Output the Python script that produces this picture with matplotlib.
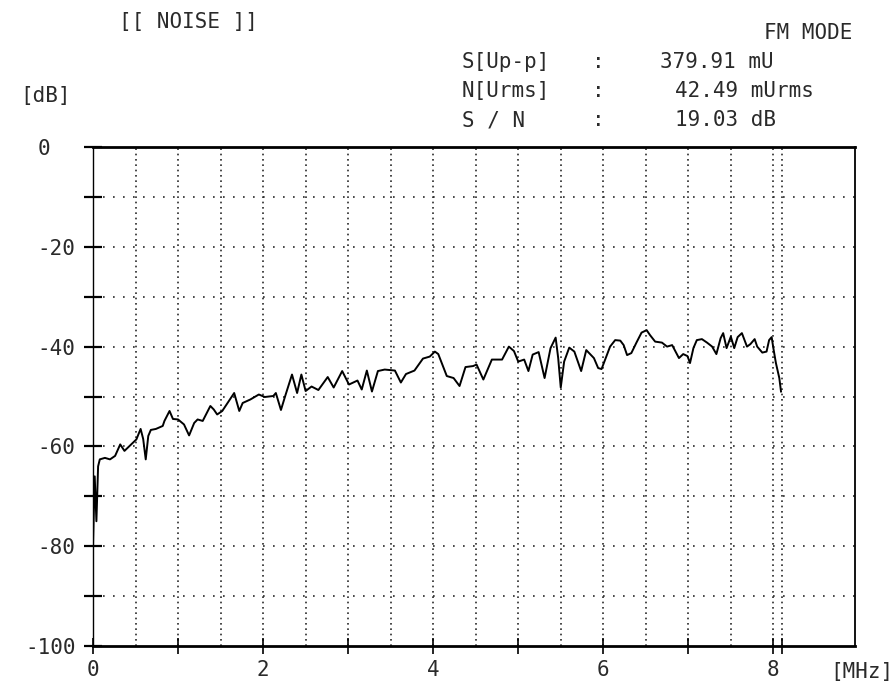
import numpy as np
import matplotlib
matplotlib.use('Agg')
from matplotlib import pyplot as plt

# noise spectrum
freq_mhz = [0.00, 0.02, 0.04, 0.06, 0.08, 0.14, 0.20, 0.26, 0.32, 0.37, 0.45, 0.51,
            0.56, 0.59, 0.62, 0.65, 0.68, 0.74, 0.82, 0.84, 0.90, 0.94, 1.00, 1.07,
            1.13, 1.19, 1.23, 1.29, 1.38, 1.42, 1.46, 1.52, 1.62, 1.66, 1.72, 1.76,
            1.85, 1.95, 2.02, 2.12, 2.15, 2.21, 2.26, 2.34, 2.40, 2.45, 2.50, 2.57,
            2.65, 2.76, 2.83, 2.93, 3.01, 3.11, 3.16, 3.22, 3.28, 3.35, 3.43, 3.55,
            3.62, 3.68, 3.78, 3.88, 3.96, 4.02, 4.06, 4.16, 4.24, 4.31, 4.38, 4.47,
            4.51, 4.59, 4.69, 4.81, 4.89, 4.95, 5.00, 5.07, 5.12, 5.17, 5.24, 5.31,
            5.38, 5.44, 5.47, 5.50, 5.54, 5.60, 5.66, 5.74, 5.80, 5.89, 5.94, 5.98,
            6.02, 6.08, 6.14, 6.20, 6.24, 6.28, 6.33, 6.39, 6.45, 6.51, 6.55, 6.61,
            6.69, 6.75, 6.81, 6.89, 6.94, 6.99, 7.02, 7.06, 7.10, 7.16, 7.22, 7.28,
            7.33, 7.38, 7.41, 7.45, 7.50, 7.54, 7.58, 7.63, 7.69, 7.73, 7.78, 7.81,
            7.87, 7.92, 7.95, 7.98, 8.00, 8.03, 8.07, 8.09]
level_db = [-80.0, -66.0, -75.0, -64.0, -62.6, -62.3, -62.6, -61.9, -59.6, -60.9, -59.6, -58.6,
            -56.5, -58.5, -62.6, -57.9, -56.7, -56.5, -55.9, -54.9, -52.9, -54.5, -54.6, -55.6,
            -57.8, -55.3, -54.6, -54.9, -51.9, -52.6, -53.6, -52.9, -50.3, -49.3, -52.9, -51.3,
            -50.6, -49.6, -50.1, -49.9, -49.3, -52.7, -49.9, -45.6, -49.3, -45.6, -48.9, -48.0,
            -48.7, -46.1, -48.2, -44.9, -47.6, -46.8, -48.6, -44.8, -49.0, -44.9, -44.6, -44.8,
            -47.2, -45.5, -44.8, -42.4, -42.0, -41.0, -41.5, -45.9, -46.3, -47.9, -44.1, -43.9,
            -43.6, -46.6, -42.6, -42.6, -40.0, -40.9, -43.0, -42.6, -44.9, -41.6, -41.1, -46.3,
            -40.3, -38.2, -42.3, -48.2, -43.0, -40.2, -41.0, -44.9, -40.7, -42.3, -44.3, -44.5,
            -42.7, -40.0, -38.7, -38.8, -39.7, -41.7, -41.3, -39.2, -37.2, -36.7, -37.7, -39.0,
            -39.2, -40.0, -39.7, -42.3, -41.5, -41.9, -43.3, -40.3, -38.7, -38.5, -39.2, -40.0,
            -41.5, -38.3, -37.3, -40.3, -38.0, -40.3, -38.1, -37.3, -40.0, -39.5, -38.5, -40.0,
            -41.2, -41.0, -38.7, -38.1, -40.3, -43.3, -46.3, -49.0]

y_ticks = list(range(-100, 1, 10))
y_tick_labels = ['-100', '', '-80', '', '-60', '', '-40', '', '-20', '', '0  ']
x_ticks = [0, 1, 2, 3, 4, 5, 6, 7, 8, 8.1]
x_tick_labels = ['0', '', '2', '', '4', '', '6', '', '8', '']
marker_mhz = 8.1

title_left = '[[ NOISE ]]'
title_right = 'FM MODE'
readout_names = ['S[Up-p]', 'N[Urms]', 'S / N']
readout_values = ['379.91 mU', '42.49 mUrms', '19.03 dB']

INK = '#2a2a2a'
FONT = 'DejaVu Sans Mono'
W, H = 895, 685

plt.rcParams['font.family'] = FONT
fig = plt.figure(figsize=(W / 100, H / 100), dpi=100)
ax = fig.add_axes([93 / W, 1 - 646 / H, (855 - 93) / W, (646 - 147) / H])
ax.set_xlim(0, 8.96)
ax.set_ylim(-100, 0)

# dotted plotter grid
for gx in list(np.arange(0.5, 8.01, 0.5)) + [marker_mhz]:
    ax.axvline(gx, color=INK, lw=1.2, linestyle=(0, (1, 2.2)), zorder=1)
for gy in range(-90, 0, 10):
    ax.axhline(gy, color=INK, lw=1.2, linestyle=(0, (1, 5)), zorder=1)

ax.plot(freq_mhz, level_db, color='black', lw=1.4, zorder=3)

ax.spines['left'].set_linewidth(1.0)
ax.spines['top'].set_linewidth(2.0)
ax.spines['bottom'].set_linewidth(2.0)
ax.spines['right'].set_linewidth(1.3)

ax.set_yticks(y_ticks)
ax.set_yticklabels(y_tick_labels)
ax.set_xticks(x_ticks)
ax.set_xticklabels(x_tick_labels)
ax.tick_params(axis='y', direction='inout', length=13, width=1.6, pad=6,
               labelsize=15, labelcolor=INK)
ax.tick_params(axis='x', direction='inout', length=12, width=1.2, pad=4,
               labelsize=15, labelcolor=INK)

txt = dict(fontsize=15, color=INK, va='center')
fig.text(188 / W, 1 - 22 / H, title_left, ha='center', **txt)
fig.text(852 / W, 1 - 33 / H, title_right, ha='right', **txt)
fig.text(46 / W, 1 - 96 / H, '[dB]', ha='center', **txt)
fig.text(893 / W, 1 - 672 / H, '[MHz]', ha='right', **txt)
value_left = [660, 675, 675]
for i, (name, value) in enumerate(zip(readout_names, readout_values)):
    ypos = 1 - (62 + 29 * i) / H
    fig.text(462 / W, ypos, name, ha='left', **txt)
    fig.text(598 / W, ypos, ':', ha='center', **txt)
    fig.text(value_left[i] / W, ypos, value, ha='left', **txt)

fig.savefig('out.png', dpi=100)
